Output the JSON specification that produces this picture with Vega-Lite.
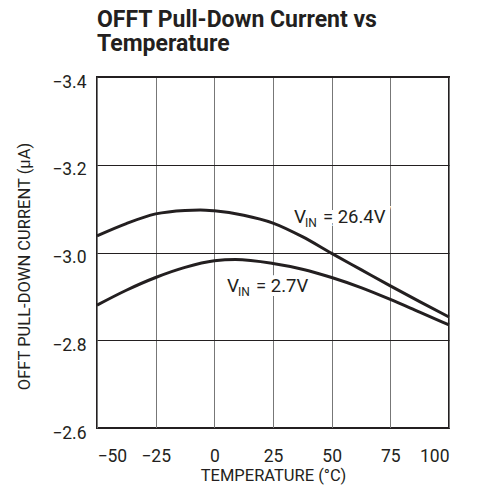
{
  "$schema": "https://vega.github.io/schema/vega-lite/v6.json",
  "width": 352,
  "height": 351,
  "autosize": "none",
  "padding": {"left": 97, "top": 77, "right": 28, "bottom": 57},
  "background": "white",
  "title": {
    "text": ["OFFT Pull-Down Current vs", "Temperature"],
    "anchor": "start",
    "frame": "group",
    "font": "Roboto",
    "fontSize": 23,
    "fontWeight": "bold",
    "color": "#231f20",
    "lineHeight": 24,
    "offset": 17
  },
  "config": {
    "view": {"stroke": "#231f20", "strokeWidth": 2},
    "axis": {
      "labelFont": "Roboto",
      "labelFontSize": 17.5,
      "labelColor": "#231f20",
      "titleFont": "Roboto",
      "titleFontSize": 16.5,
      "titleFontWeight": "normal",
      "titleColor": "#231f20",
      "ticks": false,
      "domain": false,
      "gridOpacity": 1
    }
  },
  "datasets": {
    "curves": [
      {"temp": -50, "current": -3.038, "series": "26.4V"},
      {"temp": -37.5, "current": -3.066, "series": "26.4V"},
      {"temp": -25, "current": -3.088, "series": "26.4V"},
      {"temp": -12.5, "current": -3.096, "series": "26.4V"},
      {"temp": -6, "current": -3.097, "series": "26.4V"},
      {"temp": 0, "current": -3.095, "series": "26.4V"},
      {"temp": 12.5, "current": -3.085, "series": "26.4V"},
      {"temp": 25, "current": -3.067, "series": "26.4V"},
      {"temp": 37.5, "current": -3.036, "series": "26.4V"},
      {"temp": 50, "current": -2.998, "series": "26.4V"},
      {"temp": 62.5, "current": -2.961, "series": "26.4V"},
      {"temp": 75, "current": -2.924, "series": "26.4V"},
      {"temp": 87.5, "current": -2.888, "series": "26.4V"},
      {"temp": 100, "current": -2.853, "series": "26.4V"},
      {"temp": -50, "current": -2.880, "series": "2.7V"},
      {"temp": -37.5, "current": -2.914, "series": "2.7V"},
      {"temp": -25, "current": -2.943, "series": "2.7V"},
      {"temp": -12.5, "current": -2.966, "series": "2.7V"},
      {"temp": 0, "current": -2.981, "series": "2.7V"},
      {"temp": 9, "current": -2.984, "series": "2.7V"},
      {"temp": 25, "current": -2.975, "series": "2.7V"},
      {"temp": 37.5, "current": -2.962, "series": "2.7V"},
      {"temp": 50, "current": -2.943, "series": "2.7V"},
      {"temp": 62.5, "current": -2.920, "series": "2.7V"},
      {"temp": 75, "current": -2.893, "series": "2.7V"},
      {"temp": 87.5, "current": -2.864, "series": "2.7V"},
      {"temp": 100, "current": -2.835, "series": "2.7V"}
    ],
    "labels": [
      {"temp": 33.9, "current": -3.067, "value": "= 26.4V"},
      {"temp": 5.4, "current": -2.910, "value": "= 2.7V"}
    ]
  },
  "layer": [
    {
      "data": {"name": "curves"},
      "mark": {"type": "line", "interpolate": "monotone", "strokeWidth": 3, "color": "#231f20"},
      "encoding": {
        "x": {
          "field": "temp", "type": "quantitative",
          "scale": {"domain": [-50, 100], "nice": false},
          "axis": {
            "values": [-50, -25, 0, 25, 50, 75, 100],
            "title": "TEMPERATURE (°C)",
            "labelPadding": 19,
            "labelBaseline": "top",
            "titlePadding": 3,
            "grid": true,
            "gridColor": "#777777",
            "gridWidth": 1
          }
        },
        "y": {
          "field": "current", "type": "quantitative",
          "scale": {"domain": [-3.4, -2.6], "reverse": true, "nice": false, "zero": false},
          "axis": {
            "values": [-3.4, -3.2, -3.0, -2.8, -2.6],
            "format": ".1f",
            "title": "OFFT PULL-DOWN CURRENT (µA)",
            "labelPadding": 11,
            "labelBaseline": "middle",
            "labelOffset": 5,
            "titleX": -73,
            "titleY": 189,
            "titleAngle": -90,
            "titleAlign": "center",
            "titleBaseline": "middle",
            "grid": true,
            "gridColor": "#231f20",
            "gridWidth": 1
          }
        },
        "detail": {"field": "series"}
      }
    },
    {
      "data": {"name": "labels"},
      "mark": {"type": "text", "align": "left", "baseline": "alphabetic", "font": "Roboto", "fontSize": 19, "dx": 0, "stroke": "white", "strokeWidth": 8, "text": "V"},
      "encoding": {"x": {"field": "temp", "type": "quantitative"}, "y": {"field": "current", "type": "quantitative"}}
    },
    {
      "data": {"name": "labels"},
      "mark": {"type": "text", "align": "left", "baseline": "alphabetic", "font": "Roboto", "fontSize": 18.5, "dx": 29, "stroke": "white", "strokeWidth": 8},
      "encoding": {"x": {"field": "temp", "type": "quantitative"}, "y": {"field": "current", "type": "quantitative"}, "text": {"field": "value"}}
    },
    {
      "data": {"name": "labels"},
      "mark": {"type": "text", "align": "left", "baseline": "alphabetic", "font": "Roboto", "fontSize": 19, "dx": 0, "color": "#231f20", "text": "V"},
      "encoding": {"x": {"field": "temp", "type": "quantitative"}, "y": {"field": "current", "type": "quantitative"}}
    },
    {
      "data": {"name": "labels"},
      "mark": {"type": "text", "align": "left", "baseline": "alphabetic", "font": "Roboto", "fontSize": 12, "dx": 11, "dy": 4, "color": "#231f20", "text": "IN"},
      "encoding": {"x": {"field": "temp", "type": "quantitative"}, "y": {"field": "current", "type": "quantitative"}}
    },
    {
      "data": {"name": "labels"},
      "mark": {"type": "text", "align": "left", "baseline": "alphabetic", "font": "Roboto", "fontSize": 18.5, "dx": 29, "color": "#231f20"},
      "encoding": {"x": {"field": "temp", "type": "quantitative"}, "y": {"field": "current", "type": "quantitative"}, "text": {"field": "value"}}
    }
  ]
}
